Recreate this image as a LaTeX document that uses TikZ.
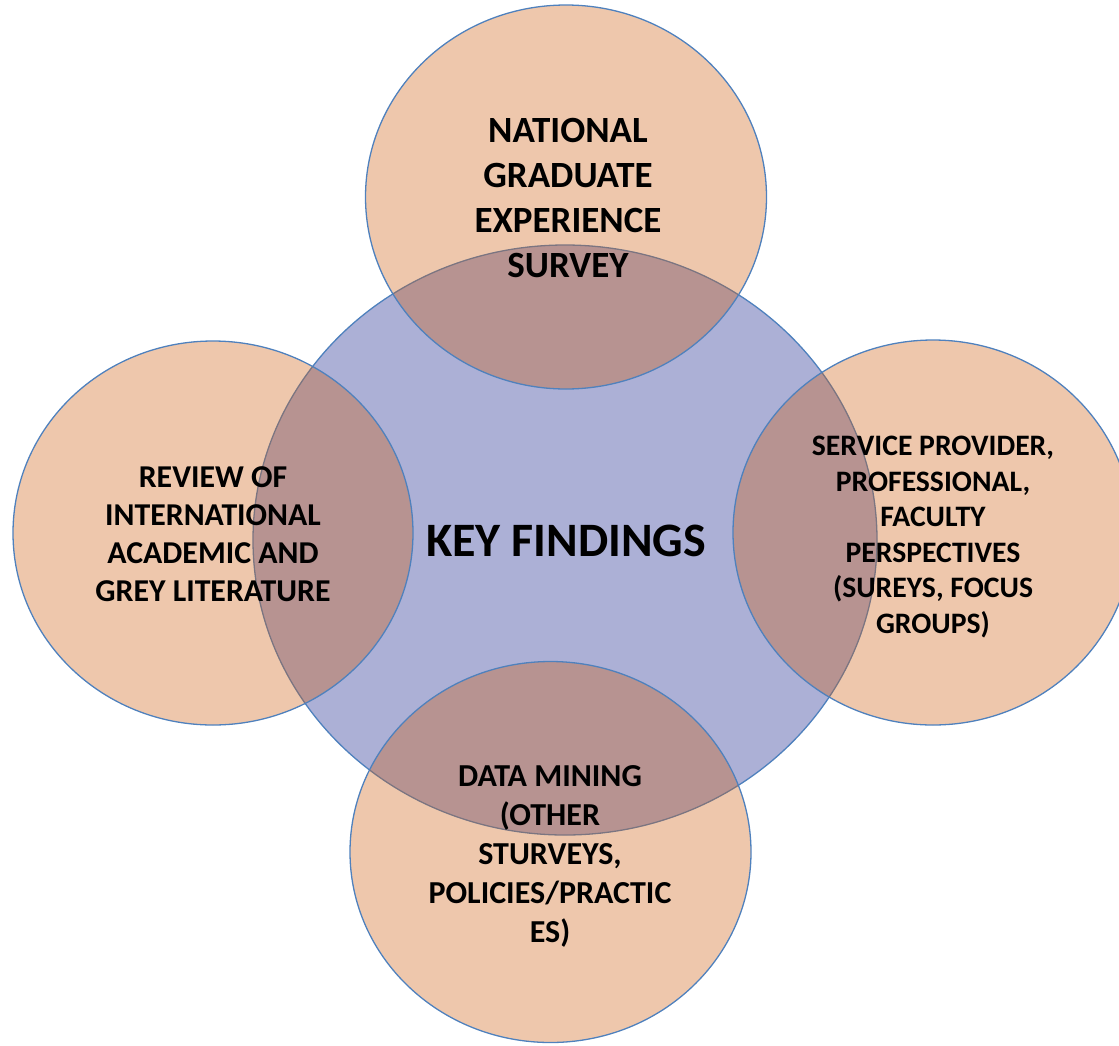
\documentclass[tikz,border=0pt]{standalone}
\usepackage{fontspec}
\setmainfont{Carlito}
\usetikzlibrary{shapes.geometric}
\definecolor{bluefill}{RGB}{172,176,214}
\definecolor{orangefill}{RGB}{206,95,18}
\definecolor{edgeblue}{RGB}{79,129,189}
\begin{document}
\begin{tikzpicture}[x=1pt,y=-1pt,
  blob/.style={ellipse, draw=edgeblue, line width=1.3pt, inner sep=0pt},
  core/.style={blob, fill=bluefill},
  petal/.style={blob, fill=orangefill, fill opacity=0.35, draw opacity=1},
  txt/.style={align=center, inner sep=0pt, text=black},
  ftop/.style={font=\bfseries\fontsize{37}{44.7}\selectfont},
  fleft/.style={font=\bfseries\fontsize{31.8}{38}\selectfont},
  fkey/.style={font=\bfseries\fontsize{48}{56}\selectfont},
  fright/.style={font=\bfseries\fontsize{29.7}{35.5}\selectfont},
  fbot/.style={font=\bfseries\fontsize{32}{39}\selectfont}
]
\useasboundingbox (0,0) rectangle (1119,1045);
\node[core, minimum width=624pt, minimum height=590pt] (kf) at (565,540) {};
\node[petal, minimum width=401pt, minimum height=384pt] (top) at (566,197) {};
\node[petal, minimum width=400pt, minimum height=384pt] (left) at (213,533) {};
\node[petal, minimum width=400pt, minimum height=385pt] (right) at (933,532.5) {};
\node[petal, minimum width=401pt, minimum height=381pt] (bottom) at (550.5,852) {};
\node[txt, ftop] (topT) at (568,198) {NATIONAL\\GRADUATE\\EXPERIENCE\\SURVEY};
\node[txt, fleft] (leftT) at (213,534) {REVIEW OF\\INTERNATIONAL\\ACADEMIC AND\\GREY LITERATURE};
\node[txt, fkey] (kfT) at (566,541) {KEY FINDINGS};
\node[txt, fright] (rightT) at (933,537) {SERVICE PROVIDER,\\PROFESSIONAL,\\FACULTY\\PERSPECTIVES\\(SUREYS, FOCUS\\GROUPS)};
\node[txt, fbot] (bottomT) at (550,856.5) {DATA MINING\\(OTHER\\STURVEYS,\\POLICIES/PRACTIC\\ES)};
\end{tikzpicture}
\end{document}
